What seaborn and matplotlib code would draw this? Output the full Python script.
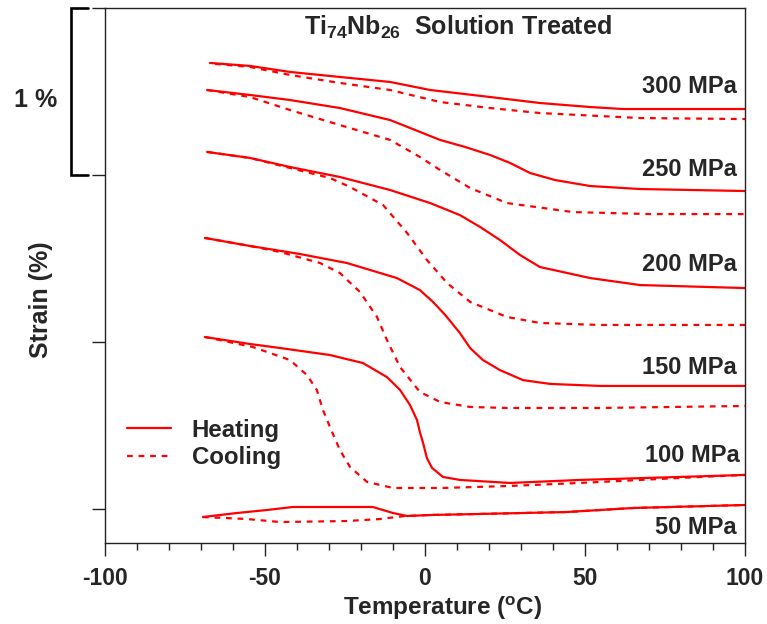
import numpy as np
import pandas as pd
import matplotlib
matplotlib.use("Agg")
import matplotlib.pyplot as plt
from matplotlib.lines import Line2D
from matplotlib.ticker import MultipleLocator, FixedLocator, NullFormatter
import seaborn as sns

# curves: temperature (C) and strain (%) with an arbitrary offset per stress
t300_heat = [-67.2, -54.7, -42.2, -26.6, -10.9, 1.6, 20.3, 35.9, 51.6, 61.9, 100]
s300_heat = [2.671, 2.653, 2.617, 2.587, 2.557, 2.509, 2.467, 2.431, 2.407, 2.395, 2.395]
t300_cool = [-65.6, -54.7, -42.2, -26.6, -10.9, 4.7, 20.3, 35.9, 67.2, 100]
s300_cool = [2.665, 2.647, 2.599, 2.551, 2.509, 2.437, 2.401, 2.371, 2.341, 2.335]

t250_heat = [-68.1, -54.7, -42.2, -26.6, -10.9, 4.7, 12.5, 20.3, 26.6, 32.8, 40.6, 51.6, 67.2, 100]
s250_heat = [2.509, 2.479, 2.449, 2.401, 2.329, 2.210, 2.168, 2.120, 2.072, 2.012, 1.970, 1.934, 1.916, 1.904]
t250_cool = [-68.1, -54.7, -42.2, -26.6, -10.9, -1.6, 4.7, 14.1, 25.6, 46.2, 70.3, 100]
s250_cool = [2.509, 2.467, 2.389, 2.299, 2.210, 2.108, 2.030, 1.922, 1.832, 1.778, 1.766, 1.766]

t200_heat = [-68.1, -54.7, -42.2, -26.6, -10.9, 1.6, 10.9, 17.2, 23.4, 29.7, 35.9, 51.6, 67.2, 100]
s200_heat = [2.138, 2.102, 2.048, 1.988, 1.910, 1.832, 1.760, 1.689, 1.611, 1.521, 1.449, 1.383, 1.341, 1.323]
t200_cool = [-68.1, -54.7, -42.2, -29.7, -23.4, -13.1, -5.6, 0.6, 6.9, 14.1, 25.6, 35.9, 54.7, 100]
s200_cool = [2.138, 2.102, 2.042, 1.982, 1.928, 1.820, 1.653, 1.491, 1.353, 1.240, 1.150, 1.114, 1.102, 1.102]

t150_heat = [-68.8, -54.7, -39.1, -24.4, -8.8, -1.6, 2.5, 6.3, 10.9, 14.1, 18.1, 23.4, 30.6, 39.1, 54.7, 100]
s150_heat = [1.623, 1.575, 1.527, 1.473, 1.383, 1.311, 1.240, 1.162, 1.054, 0.964, 0.892, 0.832, 0.772, 0.749, 0.737, 0.737]
t150_cool = [-68.8, -54.7, -45.3, -32.8, -26.6, -20.3, -15.0, -11.9, -7.8, -1.6, 4.7, 14.1, 25.6, 54.7, 100]
s150_cool = [1.623, 1.575, 1.539, 1.473, 1.413, 1.299, 1.150, 1.012, 0.850, 0.701, 0.641, 0.611, 0.605, 0.605, 0.617]

t100_heat = [-68.8, -54.7, -45.3, -29.7, -19.4, -11.9, -7.8, -4.7, -2.5, -1.6, -0.6, 0.6, 2.2, 5.6, 10.9, 26.6, 48.4, 79.7, 100]
s100_heat = [1.030, 0.988, 0.964, 0.922, 0.874, 0.790, 0.713, 0.623, 0.533, 0.461, 0.395, 0.305, 0.246, 0.192, 0.174, 0.156, 0.174, 0.192, 0.204]
t100_cool = [-68.8, -53.8, -42.2, -36.9, -33.8, -31.9, -29.7, -26.6, -23.4, -18.1, -10.0, 5.6, 26.6, 48.4, 79.7, 100]
s100_cool = [1.030, 0.970, 0.892, 0.802, 0.713, 0.593, 0.491, 0.353, 0.251, 0.162, 0.126, 0.126, 0.138, 0.156, 0.186, 0.204]

t50_heat = [-69.4, -58.8, -49.4, -41.3, -16.3, -10.0, -5.6, 1.6, 16.3, 44.4, 65.0, 100]
s50_heat = [-0.048, -0.024, -0.006, 0.012, 0.012, -0.024, -0.042, -0.036, -0.030, -0.018, 0.006, 0.024]
t50_cool = [-69.4, -55.6, -45.3, -24.4, -14.1, -6.3, 1.6, 16.3, 44.4, 65.0, 100]
s50_cool = [-0.048, -0.060, -0.078, -0.072, -0.060, -0.042, -0.036, -0.030, -0.018, 0.006, 0.024]

curves = [
    ("300", "Heating", t300_heat, s300_heat), ("300", "Cooling", t300_cool, s300_cool),
    ("250", "Heating", t250_heat, s250_heat), ("250", "Cooling", t250_cool, s250_cool),
    ("200", "Heating", t200_heat, s200_heat), ("200", "Cooling", t200_cool, s200_cool),
    ("150", "Heating", t150_heat, s150_heat), ("150", "Cooling", t150_cool, s150_cool),
    ("100", "Heating", t100_heat, s100_heat), ("100", "Cooling", t100_cool, s100_cool),
    ("50", "Heating", t50_heat, s50_heat), ("50", "Cooling", t50_cool, s50_cool),
]

# label text and where it sits (T right edge, strain centre)
stress_labels = ["300 MPa", "250 MPa", "200 MPa", "150 MPa", "100 MPa", "50 MPa"]
label_x = [97.5, 97.5, 97.5, 97.5, 98.4, 97.5]
label_y = [2.53, 2.03, 1.467, 0.847, 0.318, -0.111]

frames = []
for stress, mode, t, s in curves:
    frames.append(pd.DataFrame({"T": t, "strain": s, "mode": mode, "curve": stress + mode}))
df = pd.concat(frames, ignore_index=True)

sns.set_style("ticks")
plt.rcParams["font.family"] = ["Liberation Sans", "DejaVu Sans"]
plt.rcParams["font.weight"] = "bold"
plt.rcParams["axes.unicode_minus"] = False
plt.rcParams["mathtext.fontset"] = "custom"
plt.rcParams["mathtext.bf"] = "Liberation Sans:bold"
plt.rcParams["mathtext.rm"] = "Liberation Sans:bold"
plt.rcParams["mathtext.default"] = "bf"

fig = plt.figure(figsize=(7.67, 6.24), dpi=100)
ax = fig.add_axes([0.1369, 0.1298, 0.8344, 0.8574])

sns.lineplot(data=df, x="T", y="strain", units="curve", estimator=None, style="mode",
             dashes={"Heating": "", "Cooling": (2.6, 2.6)}, color="#ff0000",
             linewidth=1.6, legend=False, ax=ax)

ax.set_xlim(-100, 100)
ax.set_ylim(-0.2036, 3.0)
ax.xaxis.set_major_locator(MultipleLocator(50))
ax.xaxis.set_minor_locator(MultipleLocator(10))
ax.yaxis.set_major_locator(FixedLocator([0, 1, 2, 3]))
ax.yaxis.set_major_formatter(NullFormatter())
ax.tick_params(axis="both", which="major", direction="out", length=9.5, width=1, color="#222222",
               labelsize=16.5, pad=8)
ax.tick_params(axis="x", which="minor", direction="out", length=5, width=1, color="#222222")
for lab in ax.get_xticklabels():
    lab.set_fontweight("bold")
for sp in ax.spines.values():
    sp.set_linewidth(1)
    sp.set_color("#222222")

ax.set_xlabel(r"Temperature ($^{o}$C)", fontsize=17.5, fontweight="bold")
ax.xaxis.set_label_coords(0.528, -0.096)
ax.set_ylabel("Strain (%)", fontsize=18, fontweight="bold")
ax.yaxis.set_label_coords(-0.082, 0.454)

ax.text(10.2, 2.886, r"Ti$_{74}$Nb$_{26}$  Solution Treated", fontsize=18, fontweight="bold",
        ha="center", va="center")

for lab, x, y in zip(stress_labels, label_x, label_y):
    ax.text(x, y, lab, fontsize=17, fontweight="bold", ha="right", va="center")

# 1 % scale bar outside the axes
trans = ax.get_yaxis_transform()
ax.plot([-0.0266, -0.0531, -0.0531, -0.0266], [3.0, 3.0, 2.0, 2.0], color="black", lw=1.9,
        transform=trans, clip_on=False, solid_joinstyle="miter")
ax.text(-0.109, 2.449, "1 %", fontsize=18, fontweight="bold", ha="center", va="center",
        transform=trans)

handles = [Line2D([], [], color="#ff0000", lw=1.6),
           Line2D([], [], color="#ff0000", lw=1.6, dashes=(2.6, 2.6))]
ax.legend(handles, ["Heating", "Cooling"], loc="upper left", bbox_to_anchor=(0.034, 0.232),
          frameon=False, handlelength=1.85, handletextpad=0.85, labelspacing=0.18,
          borderpad=0, borderaxespad=0, prop={"weight": "bold", "size": 17.3})

fig.savefig("out.png", dpi=100)
